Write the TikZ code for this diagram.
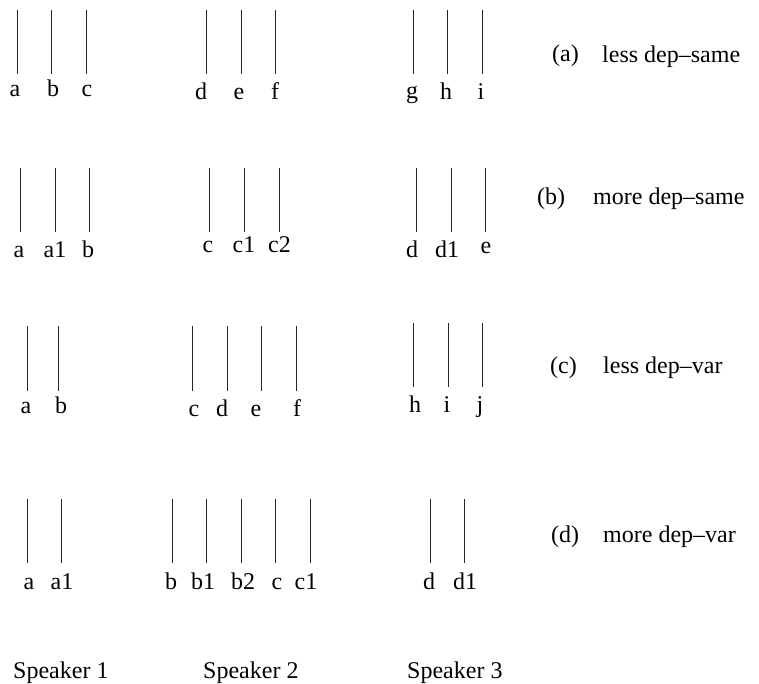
\documentclass[tikz,border=0pt]{standalone}
\usepackage{fontspec}
\setmainfont{Liberation Serif}
\begin{document}
\begin{tikzpicture}[x=1pt,y=-1pt,
  tickline/.style={line width=0.9pt,black!85},
  lbl/.style={inner sep=0pt,anchor=base,font=\fontsize{24}{28}\selectfont},
  lblw/.style={inner sep=0pt,anchor=base west,font=\fontsize{24}{28}\selectfont}]
\useasboundingbox (0,0) rectangle (759,684);
% \utt{name}{x}{top}{bottom}{label}{label x}{label baseline}
\newcommand\utt[7]{%
  \coordinate (#1t) at (#2,#3);
  \coordinate (#1b) at (#2,#4);
  \draw[tickline] (#1t) -- (#1b);
  \node[lbl] (#1l) at (#6,#7) {#5};}
% ---- row (a): less dep-same
\utt{aa}{17}{10}{74}{a}{15}{97}
\utt{ab}{51}{10}{74}{b}{53}{97}
\utt{ac}{86}{10}{74}{c}{87}{97}
\utt{ad}{206}{10}{74}{d}{201}{100}
\utt{ae}{241}{10}{74}{e}{239}{100}
\utt{af}{275}{10}{74}{f}{275}{100}
\utt{ag}{413}{10}{74}{g}{412}{99}
\utt{ah}{447}{10}{74}{h}{446}{100}
\utt{ai}{482}{10}{74}{i}{481}{100}
\node[lblw] (tagA) at (552,62) {(a)};
\node[lblw] (capA) at (602,63) {less dep--same};
% ---- row (b): more dep-same
\utt{ba}{20}{168}{232}{a}{19}{258}
\utt{bai}{55}{168}{232}{a1}{55}{258}
\utt{bb}{89}{168}{232}{b}{88}{258}
\utt{bc}{209}{168}{232}{c}{208}{253}
\utt{bci}{244}{168}{232}{c1}{244}{253}
\utt{bcii}{279}{168}{232}{c2}{279.5}{253}
\utt{bd}{416}{168}{232}{d}{412}{258}
\utt{bdi}{451}{168}{232}{d1}{447}{258}
\utt{be}{485}{168}{232}{e}{486}{254}
\node[lblw] (tagB) at (537,205) {(b)};
\node[lblw] (capB) at (593,205) {more dep--same};
% ---- row (c): less dep-var
\utt{ca}{27}{326}{391}{a}{26}{413}
\utt{cb}{58}{326}{391}{b}{61}{413}
\utt{cc}{192}{326}{391}{c}{194}{416}
\utt{cd}{227}{326}{391}{d}{222}{416}
\utt{ce}{261}{326}{391}{e}{256}{416}
\utt{cf}{296}{326}{391}{f}{297}{416}
\utt{ch}{413}{323}{387}{h}{415}{412}
\utt{ci}{448}{323}{387}{i}{447}{412}
\utt{cj}{482}{323}{387}{j}{480}{412}
\node[lblw] (tagC) at (550,373) {(c)};
\node[lblw] (capC) at (603,373) {less dep--var};
% ---- row (d): more dep-var
\utt{da}{27}{499}{563}{a}{29}{589}
\utt{dai}{61}{499}{563}{a1}{62}{589}
\utt{db}{172}{499}{563}{b}{171}{589}
\utt{dbi}{206}{499}{563}{b1}{203}{589}
\utt{dbii}{241}{499}{563}{b2}{243}{589}
\utt{dc}{275}{499}{563}{c}{277}{589}
\utt{dci}{310}{499}{563}{c1}{306}{589}
\utt{dd}{430}{499}{563}{d}{429}{589}
\utt{ddi}{464}{499}{563}{d1}{465}{589}
\node[lblw] (tagD) at (551,542) {(d)};
\node[lblw] (capD) at (603,542) {more dep--var};
% ---- speakers
\node[lblw] (spk1) at (13,678) {Speaker 1};
\node[lblw] (spk2) at (203,678) {Speaker 2};
\node[lblw] (spk3) at (407,678) {Speaker 3};
\end{tikzpicture}
\end{document}
